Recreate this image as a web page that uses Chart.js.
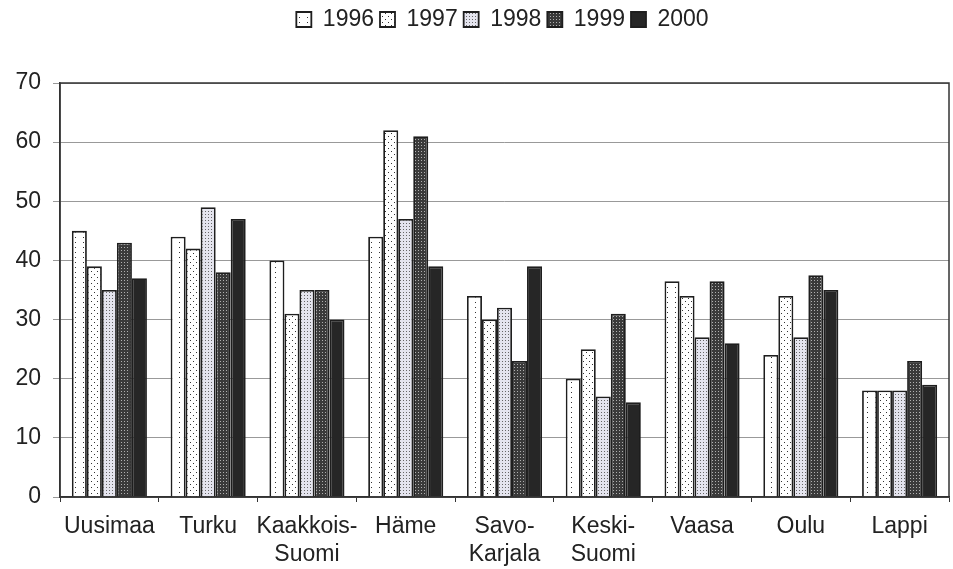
<!DOCTYPE html>
<html>
<head>
<meta charset="utf-8">
<script src="https://cdn.jsdelivr.net/npm/chart.js@4/dist/chart.umd.min.js"></script>
<style>
  html, body { margin: 0; padding: 0; background: #fff; }
  #wrap { width: 953px; height: 569px; }
</style>
</head>
<body>
<div id="wrap"><canvas id="c" width="953" height="569"></canvas></div>
<script>
// regions (multi-line labels as in the source)
const regions = ['Uusimaa', 'Turku', ['Kaakkois-', 'Suomi'], 'Häme', ['Savo-', 'Karjala'],
                 ['Keski-', 'Suomi'], 'Vaasa', 'Oulu', 'Lappi'];
const years = ['1996', '1997', '1998', '1999', '2000'];

const v1996 = [45, 44, 40, 44, 34, 20, 36.5, 24, 18];
const v1997 = [39, 42, 31, 62, 30, 25, 34, 34, 18];
const v1998 = [35, 49, 35, 47, 32, 17, 27, 27, 18];
const v1999 = [43, 38, 35, 61, 23, 31, 36.5, 37.5, 23];
const v2000 = [37, 47, 30, 39, 39, 16, 26, 35, 19];

const yTicks = [0, 10, 20, 30, 40, 50, 60, 70];

// little dot patterns, like the old print fills
function makePattern(w, h, bg, dot, dots) {
    const cv = document.createElement('canvas');
    cv.width = w; cv.height = h;
    const g = cv.getContext('2d');
    g.fillStyle = bg;
    g.fillRect(0, 0, w, h);
    g.fillStyle = dot;
    dots.forEach(([x, y]) => g.fillRect(x, y, 1, 1));
    return g.createPattern(cv, 'repeat');
}
const ctx = document.getElementById('c').getContext('2d');
const fills = [
    makePattern(8, 10, '#ffffff', '#333', [[3, 2], [3, 7]]),
    makePattern(6, 6, '#ffffff', '#333', [[1, 1], [4, 4]]),
    makePattern(3, 3, '#e4e4ee', '#666', [[1, 1]]),
    makePattern(3, 3, '#3a3a3a', '#b0b0b0', [[1, 1]]),
    '#262626'
];
const series = [v1996, v1997, v1998, v1999, v2000];

// frame around the plot area
const frame = {
    id: 'frame',
    afterDraw(chart) {
        const a = chart.chartArea, c = chart.ctx;
        c.save();
        c.strokeStyle = '#333';
        c.lineWidth = 1.5;
        c.strokeRect(a.left, a.top, a.right - a.left, a.bottom - a.top);
        c.restore();
    }
};

// extra room under the legend, and nudge it a bit to the right
const legendSpace = {
    id: 'legendSpace',
    afterInit(chart) {
        const lg = chart.legend;
        const fit = lg.fit;
        lg.fit = function () {
            fit.call(this);
            this.height += 42;
        };
    },
    afterLayout(chart) {
        chart.legend.left += 28;
        chart.legend.right += 28;
    }
};

Chart.defaults.font.family = '"Liberation Sans", Arial, sans-serif';
Chart.defaults.color = '#222';

new Chart(ctx, {
    type: 'bar',
    data: {
        labels: regions,
        datasets: years.map((y, i) => ({
            label: y,
            data: series[i],
            backgroundColor: fills[i],
            borderColor: '#1e1e1e',
            borderWidth: 1.8,
            barPercentage: 1.0,
            categoryPercentage: 0.76
        }))
    },
    options: {
        responsive: false,
        animation: false,
        layout: { padding: { left: 0, right: 4, top: 2, bottom: 0 } },
        scales: {
            x: {
                grid: { display: true, drawOnChartArea: false, drawTicks: true, tickLength: 5, color: '#333', offset: true },
                border: { color: '#333', width: 1.5 },
                ticks: { font: { size: 23 }, maxRotation: 0, autoSkip: false, padding: 11 },
                afterFit: (axis) => { axis.height = 72; }
            },
            y: {
                min: 0,
                max: 70,
                afterBuildTicks: (axis) => { axis.ticks = yTicks.map(v => ({ value: v })); },
                grid: { color: '#999', lineWidth: 1, tickLength: 7 },
                border: { color: '#333', width: 1.5 },
                ticks: { font: { size: 23 }, padding: 12 },
                afterFit: (axis) => { axis.width = 60; }
            }
        },
        plugins: {
            legend: {
                position: 'top',
                labels: {
                    font: { size: 23 },
                    boxWidth: 15,
                    boxHeight: 15,
                    padding: 6,
                    color: '#222'
                }
            },
            tooltip: { enabled: false }
        }
    },
    plugins: [frame, legendSpace]
});
</script>
</body>
</html>
